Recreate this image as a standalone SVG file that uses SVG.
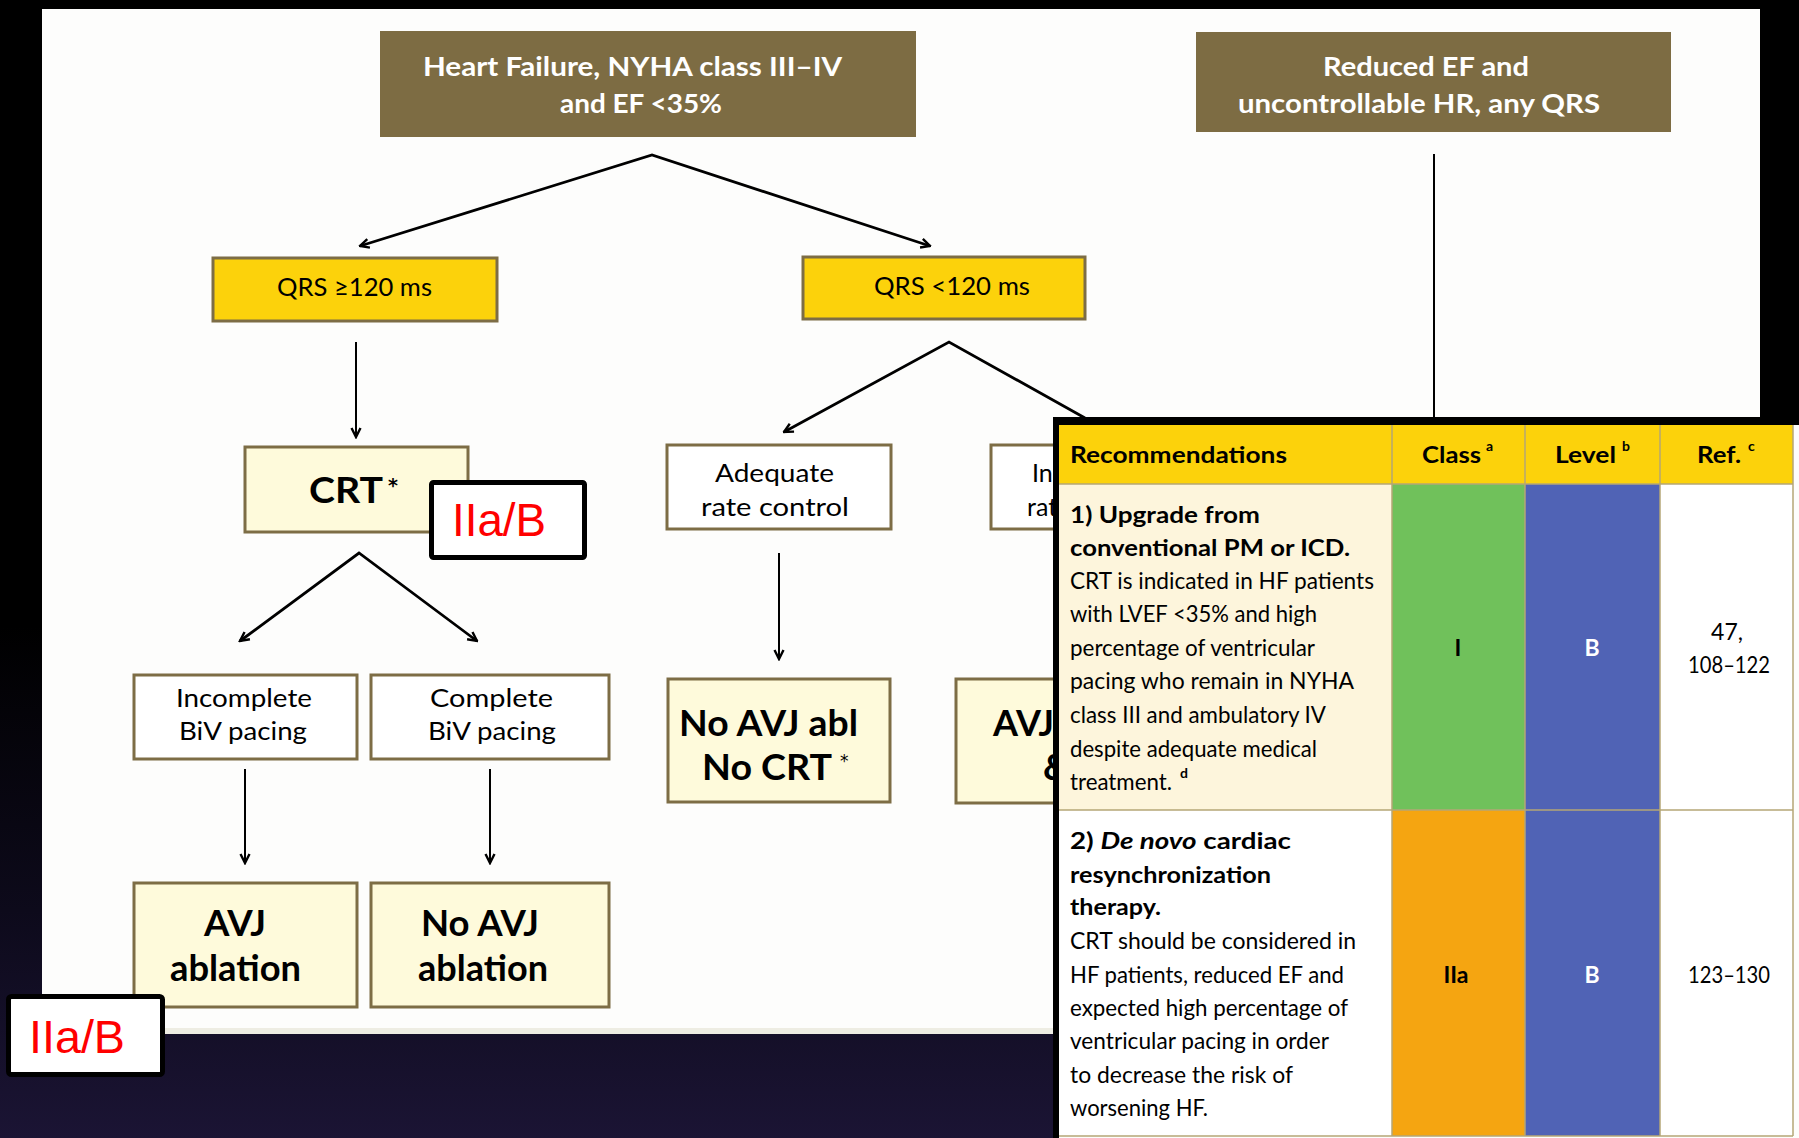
<svg xmlns="http://www.w3.org/2000/svg" width="1799" height="1138" viewBox="0 0 1799 1138">
<defs>
<linearGradient id="bg" x1="0" y1="0" x2="0" y2="1">
<stop offset="0" stop-color="#000000"/>
<stop offset="0.55" stop-color="#000000"/>
<stop offset="0.8" stop-color="#0d0a1b"/>
<stop offset="1" stop-color="#1b1434"/>
</linearGradient>
<clipPath id="underTable"><rect x="0" y="0" width="1053" height="1138"/></clipPath>
<marker id="arr" viewBox="0 0 12 12" refX="10.5" refY="6" markerWidth="12" markerHeight="12" markerUnits="userSpaceOnUse" orient="auto-start-reverse">
<path d="M1.5,1.5 L10.5,6 L1.5,10.5" fill="none" stroke="#000" stroke-width="2.4"/>
</marker>
<style>
.f{font-family:"DejaVu Sans",Lato,sans-serif}
.brown{fill:#7d6c43}
.gold{fill:#fcd20b;stroke:#7d6d45;stroke-width:3}
.cream{fill:#fefadb;stroke:#7d6d45;stroke-width:3}
.white{fill:#ffffff;stroke:#7d6d45;stroke-width:3}
.badge{fill:#ffffff;stroke:#000;stroke-width:5}
.ht{font-family:Lato,"Noto Sans",sans-serif;font-weight:700;font-size:27px;fill:#ffffff}
.lab{font-family:Lato,"Noto Sans",sans-serif;font-size:25px;fill:#000}
.big{font-family:Lato,"Noto Sans",sans-serif;font-weight:700;font-size:36px;fill:#000}
.red{font-family:"Liberation Sans",Arial,sans-serif;font-size:47px;fill:#ff0000}
.conn{fill:none;stroke:#000;stroke-width:2.8}
.down{fill:none;stroke:#000;stroke-width:2}
.tb{font-family:Lato,"Noto Sans",sans-serif;font-size:23px;fill:#000}
.tbb{font-family:Lato,"Noto Sans",sans-serif;font-size:23px;font-weight:700;fill:#000}
.sup{font-family:Lato,"Noto Sans",sans-serif;font-size:14px;font-weight:700;fill:#000}
.cell{stroke:#b5a676;stroke-width:1.5}
</style>
</defs>

<rect x="0" y="0" width="1799" height="1138" fill="url(#bg)"/>
<rect x="42" y="9" width="1718" height="1025" fill="#fdfdfc"/>
<rect x="42" y="1028" width="1718" height="6" fill="#eeede3"/>

<g id="connectors">
<polyline class="conn" points="360,246 652,155 930,246" marker-start="url(#arr)" marker-end="url(#arr)"/>
<line class="down" x1="356" y1="342" x2="356" y2="437" marker-end="url(#arr)"/>
<polyline class="conn" points="784,432 949,342 1085,418" marker-start="url(#arr)"/>
<polyline class="conn" points="240,641 359,553 477,641" marker-start="url(#arr)" marker-end="url(#arr)"/>
<line class="down" x1="245" y1="769" x2="245" y2="863" marker-end="url(#arr)"/>
<line class="down" x1="490" y1="769" x2="490" y2="863" marker-end="url(#arr)"/>
<line class="down" x1="779" y1="553" x2="779" y2="659" marker-end="url(#arr)"/>
<line class="down" x1="1434" y1="154" x2="1434" y2="420"/>
</g>

<g id="node-hf">
<rect class="brown" x="380" y="31" width="536" height="106"/>
<text class="ht" x="423" y="76" textLength="419" lengthAdjust="spacingAndGlyphs">Heart Failure, NYHA class III–IV</text>
<text class="ht" x="560" y="113" textLength="162" lengthAdjust="spacingAndGlyphs">and EF &lt;35%</text>
</g>

<g id="node-reduced-ef">
<rect class="brown" x="1196" y="32" width="475" height="100"/>
<text class="ht" x="1323" y="76" textLength="206" lengthAdjust="spacingAndGlyphs">Reduced EF and</text>
<text class="ht" x="1238" y="113" textLength="362" lengthAdjust="spacingAndGlyphs">uncontrollable HR, any QRS</text>
</g>

<g id="node-qrs-wide">
<rect class="gold" x="213" y="258" width="284" height="63"/>
<text class="lab" x="277" y="296" textLength="155" lengthAdjust="spacingAndGlyphs">QRS ≥120 ms</text>
</g>

<g id="node-qrs-narrow">
<rect class="gold" x="803" y="257" width="282" height="62"/>
<text class="lab" x="874" y="295" textLength="156" lengthAdjust="spacingAndGlyphs">QRS &lt;120 ms</text>
</g>

<g id="node-crt">
<rect class="cream" x="245" y="447" width="223" height="85"/>
<text class="big" x="309" y="503" textLength="74" lengthAdjust="spacingAndGlyphs">CRT</text>
<text class="f" x="388" y="492" font-size="19" font-weight="700">*</text>
</g>

<g id="node-adequate">
<rect class="white" x="667" y="445" width="224" height="84"/>
<text class="lab" x="715" y="482" textLength="119" lengthAdjust="spacingAndGlyphs">Adequate</text>
<text class="lab" x="701" y="516" textLength="148" lengthAdjust="spacingAndGlyphs">rate control</text>
</g>

<g id="node-inadequate" clip-path="url(#underTable)">
<rect class="white" x="991" y="445" width="224" height="84"/>
<text class="lab" x="1032" y="482">In</text>
<text class="lab" x="1027" y="516">rat</text>
</g>

<g id="node-incomplete">
<rect class="white" x="134" y="675" width="223" height="84"/>
<text class="lab" x="176" y="707" textLength="136" lengthAdjust="spacingAndGlyphs">Incomplete</text>
<text class="lab" x="179" y="740" textLength="128" lengthAdjust="spacingAndGlyphs">BiV pacing</text>
</g>

<g id="node-complete">
<rect class="white" x="371" y="675" width="238" height="84"/>
<text class="lab" x="430" y="707" textLength="123" lengthAdjust="spacingAndGlyphs">Complete</text>
<text class="lab" x="428" y="740" textLength="128" lengthAdjust="spacingAndGlyphs">BiV pacing</text>
</g>

<g id="node-avj-ablation">
<rect class="cream" x="134" y="883" width="223" height="124"/>
<text class="big" x="204" y="936" textLength="62" lengthAdjust="spacingAndGlyphs">AVJ</text>
<text class="big" x="170" y="981" textLength="131" lengthAdjust="spacingAndGlyphs">ablation</text>
</g>

<g id="node-no-avj-ablation">
<rect class="cream" x="371" y="883" width="238" height="124"/>
<text class="big" x="421" y="936" textLength="118" lengthAdjust="spacingAndGlyphs">No AVJ</text>
<text class="big" x="418" y="981" textLength="130" lengthAdjust="spacingAndGlyphs">ablation</text>
</g>

<g id="node-no-avj-no-crt">
<rect class="cream" x="668" y="679" width="222" height="123"/>
<text class="big" x="679" y="736" textLength="179" lengthAdjust="spacingAndGlyphs">No AVJ abl</text>
<text class="big" x="702" y="780" textLength="130" lengthAdjust="spacingAndGlyphs">No CRT</text>
<text class="f" x="840" y="767" font-size="17">*</text>
</g>

<g id="node-avj-crt" clip-path="url(#underTable)">
<rect class="cream" x="956" y="679" width="224" height="124"/>
<text class="big" x="993" y="736">AVJ</text>
<text class="big" x="1043" y="780">&amp;</text>
</g>

<g id="badge-crt">
<rect class="badge" x="431.5" y="482.5" width="153" height="75" rx="2"/>
<text class="red" x="452" y="536" textLength="94" lengthAdjust="spacingAndGlyphs">IIa/B</text>
</g>

<g id="badge-bottom">
<rect class="badge" x="8.5" y="996.5" width="154" height="78" rx="3"/>
<text class="red" x="29" y="1053" textLength="96" lengthAdjust="spacingAndGlyphs">IIa/B</text>
</g>

<g id="table">
<rect x="1053" y="417" width="746" height="721" fill="#000"/>
<rect x="1059" y="425" width="740" height="713" fill="#fdfdfc"/>
<rect x="1059" y="425" width="734" height="59" fill="#fcd20b"/>
<rect x="1059" y="484" width="333" height="326" fill="#fdf5dc"/>
<rect x="1392" y="484" width="133" height="326" fill="#70c15b"/>
<rect x="1525" y="484" width="135" height="326" fill="#5063b5"/>
<rect x="1660" y="484" width="133" height="326" fill="#ffffff"/>
<rect x="1059" y="810" width="333" height="326" fill="#ffffff"/>
<rect x="1392" y="810" width="133" height="326" fill="#f5a511"/>
<rect x="1525" y="810" width="135" height="326" fill="#5063b5"/>
<rect x="1660" y="810" width="133" height="326" fill="#ffffff"/>
<g class="cell">
<line x1="1059" y1="484" x2="1793" y2="484"/>
<line x1="1059" y1="810" x2="1793" y2="810"/>
<line x1="1059" y1="1136" x2="1793" y2="1136"/>
<line x1="1392" y1="425" x2="1392" y2="1136"/>
<line x1="1525" y1="425" x2="1525" y2="1136"/>
<line x1="1660" y1="425" x2="1660" y2="1136"/>
<line x1="1793" y1="425" x2="1793" y2="1136"/>
</g>
<text class="tbb" x="1070" y="463" textLength="217" lengthAdjust="spacingAndGlyphs">Recommendations</text>
<text class="tbb" x="1422" y="463" textLength="59" lengthAdjust="spacingAndGlyphs">Class</text>
<text class="sup" x="1486" y="451">a</text>
<text class="tbb" x="1555" y="463" textLength="61" lengthAdjust="spacingAndGlyphs">Level</text>
<text class="sup" x="1622" y="451">b</text>
<text class="tbb" x="1697" y="463" textLength="44" lengthAdjust="spacingAndGlyphs">Ref.</text>
<text class="sup" x="1748" y="451">c</text>

<text class="tbb" x="1070" y="523" textLength="190" lengthAdjust="spacingAndGlyphs">1) Upgrade from</text>
<text class="tbb" x="1070" y="556" textLength="280" lengthAdjust="spacingAndGlyphs">conventional PM or ICD.</text>
<text class="tb" x="1070" y="589" textLength="304" lengthAdjust="spacingAndGlyphs">CRT is indicated in HF patients</text>
<text class="tb" x="1070" y="622" textLength="247" lengthAdjust="spacingAndGlyphs">with LVEF &lt;35% and high</text>
<text class="tb" x="1070" y="656" textLength="245" lengthAdjust="spacingAndGlyphs">percentage of ventricular</text>
<text class="tb" x="1070" y="689" textLength="284" lengthAdjust="spacingAndGlyphs">pacing who remain in NYHA</text>
<text class="tb" x="1070" y="723" textLength="256" lengthAdjust="spacingAndGlyphs">class III and ambulatory IV</text>
<text class="tb" x="1070" y="757" textLength="247" lengthAdjust="spacingAndGlyphs">despite adequate medical</text>
<text class="tb" x="1070" y="790" textLength="102" lengthAdjust="spacingAndGlyphs">treatment.</text>
<text class="sup" x="1180" y="778" font-weight="400">d</text>
<text class="tbb" x="1458" y="656" text-anchor="middle">I</text>
<text class="tbb" x="1592" y="656" text-anchor="middle" style="fill:#fff">B</text>
<text class="tb" x="1727" y="640" text-anchor="middle">47,</text>
<text class="tb" x="1729" y="673" text-anchor="middle" textLength="82" lengthAdjust="spacingAndGlyphs">108–122</text>

<text class="tbb" x="1070" y="849" textLength="221" lengthAdjust="spacingAndGlyphs">2) <tspan font-style="italic">De novo</tspan>  cardiac</text>
<text class="tbb" x="1070" y="883" textLength="201" lengthAdjust="spacingAndGlyphs">resynchronization</text>
<text class="tbb" x="1070" y="915" textLength="91" lengthAdjust="spacingAndGlyphs">therapy.</text>
<text class="tb" x="1070" y="949" textLength="286" lengthAdjust="spacingAndGlyphs">CRT should be considered in</text>
<text class="tb" x="1070" y="983" textLength="274" lengthAdjust="spacingAndGlyphs">HF patients, reduced EF and</text>
<text class="tb" x="1070" y="1016" textLength="278" lengthAdjust="spacingAndGlyphs">expected high percentage of</text>
<text class="tb" x="1070" y="1049" textLength="259" lengthAdjust="spacingAndGlyphs">ventricular pacing in order</text>
<text class="tb" x="1070" y="1083" textLength="223" lengthAdjust="spacingAndGlyphs">to decrease the risk of</text>
<text class="tb" x="1070" y="1116" textLength="138" lengthAdjust="spacingAndGlyphs">worsening HF.</text>
<text class="tbb" x="1456" y="983" text-anchor="middle">IIa</text>
<text class="tbb" x="1592" y="983" text-anchor="middle" style="fill:#fff">B</text>
<text class="tb" x="1729" y="983" text-anchor="middle" textLength="82" lengthAdjust="spacingAndGlyphs">123–130</text>
</g>
</svg>
